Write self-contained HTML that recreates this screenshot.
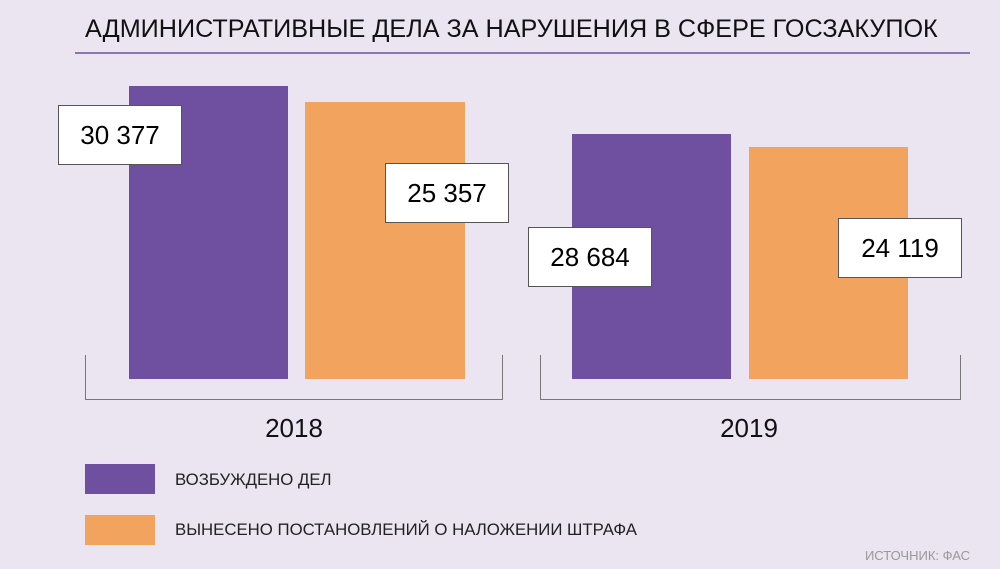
<!DOCTYPE html>
<html><head><meta charset="utf-8"><style>
body{margin:0;width:1000px;height:569px;background:#ebe4f1;position:relative;overflow:hidden;font-family:"Liberation Sans",sans-serif;}
.a{position:absolute;}
.bx{position:absolute;background:#fff;border:1px solid #555;box-sizing:border-box;width:124px;height:60px;font-size:26px;color:#000;text-align:center;line-height:58px;}
.p{background:#6f4f9f;}
.o{background:#f2a35e;}
</style></head><body>
<div class="a" style="left:85px;top:15px;font-size:25.2px;color:#111;white-space:nowrap">АДМИНИСТРАТИВНЫЕ ДЕЛА ЗА НАРУШЕНИЯ В СФЕРЕ ГОСЗАКУПОК</div>
<div class="a" style="left:75px;top:52px;width:895px;height:2px;background:#8a76b0"></div>

<div class="a p" style="left:129px;top:86px;width:159px;height:293px"></div>
<div class="a o" style="left:305px;top:102px;width:160px;height:277px"></div>
<div class="a p" style="left:572px;top:134px;width:159px;height:245px"></div>
<div class="a o" style="left:749px;top:147px;width:159px;height:232px"></div>

<div class="bx" style="left:58px;top:105px">30 377</div>
<div class="bx" style="left:385px;top:163px">25 357</div>
<div class="bx" style="left:528px;top:227px">28 684</div>
<div class="bx" style="left:838px;top:218px">24 119</div>

<div class="a" style="left:85px;top:355px;width:416px;height:44px;border:1px solid #777;border-top:none"></div>
<div class="a" style="left:540px;top:355px;width:419px;height:44px;border:1px solid #777;border-top:none"></div>
<div class="a" style="left:244px;top:413px;width:100px;text-align:center;font-size:26px;color:#111">2018</div>
<div class="a" style="left:699px;top:413px;width:100px;text-align:center;font-size:26px;color:#111">2019</div>

<div class="a p" style="left:85px;top:464px;width:70px;height:30px"></div>
<div class="a o" style="left:85px;top:515px;width:70px;height:30px"></div>
<div class="a" style="left:175px;top:470px;font-size:16.8px;color:#222;white-space:nowrap">ВОЗБУЖДЕНО ДЕЛ</div>
<div class="a" style="left:175px;top:520px;font-size:16.8px;color:#222;white-space:nowrap">ВЫНЕСЕНО ПОСТАНОВЛЕНИЙ О НАЛОЖЕНИИ ШТРАФА</div>
<div class="a" style="right:30px;top:548px;font-size:13px;color:#999">ИСТОЧНИК: ФАС</div>
</body></html>
